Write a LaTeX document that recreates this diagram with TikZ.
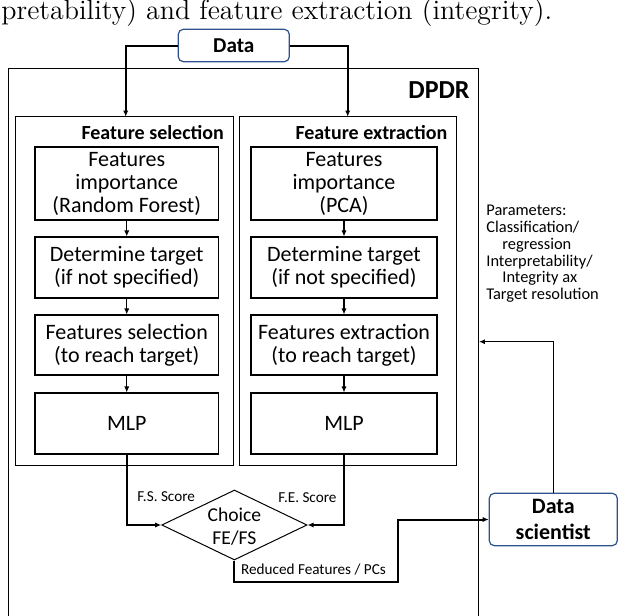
\documentclass[tikz,border=0pt]{standalone}
\usepackage{fontspec}
\newfontfamily\calib{Carlito}
\usetikzlibrary{shapes.geometric,arrows.meta}
\definecolor{boxblue}{HTML}{2F528F}
\begin{document}
\begin{tikzpicture}[x=0.5pt,y=-0.5pt,
  captxt/.style={anchor=base west, inner sep=0pt, font=\fontsize{14}{16}\selectfont},
  outerbox/.style={draw, line width=0.5pt, inner sep=0pt},
  groupbox/.style={draw, line width=0.5pt, inner sep=0pt},
  procbox/.style={draw, line width=0.55pt, inner sep=0pt, align=center, font=\calib\fontsize{11}{11.5}\selectfont},
  lcol/.style={procbox, minimum width=91.75pt},
  rcol/.style={procbox, minimum width=93pt},
  roundbox/.style={draw=boxblue, line width=0.6pt, rounded corners=2.5pt, fill=white, inner sep=0pt, align=center},
  grptitle/.style={anchor=east, inner sep=0pt, font=\calib\bfseries\fontsize{10}{12}\selectfont},
  choicebox/.style={draw, shape=diamond, line width=0.5pt, inner sep=0pt},
  choicetxt/.style={inner sep=0pt, align=center, font=\calib\fontsize{9.8}{11.5}\selectfont},
  smalltxt/.style={inner sep=0pt, font=\calib\fontsize{7.6}{9}\selectfont},
  paramtxt/.style={anchor=north west, inner sep=0pt, align=left, font=\calib\fontsize{8.2}{8.35}\selectfont},
  tip/.style={-{Latex[length=3pt,width=2.6pt]}},
  thickconn/.style={line width=1pt},
  thinconn/.style={line width=0.6pt}
]
\useasboundingbox (0,0) rectangle (618,616);
\clip (0,0) rectangle (618,616);

% caption fragment
\node[captxt] (cap) at (1,19.5) {pretability) and feature extraction (integrity).};

% outer box
\node[outerbox, minimum width=235.15pt, minimum height=285.85pt] (dpdr) at (243.85,354.15) {};
\node[inner sep=0pt, font=\calib\bfseries\fontsize{13}{15}\selectfont] (dpdrlbl) at (439,90.2) {DPDR};

% data
\node[roundbox, minimum width=55.5pt, minimum height=16.2pt, font=\calib\bfseries\fontsize{10.6}{12}\selectfont] (data) at (233.8,45.5) {Data};

% groups
\node[groupbox, minimum width=108.9pt, minimum height=174.15pt] (lgroup) at (124.4,290.85) {};
\node[groupbox, minimum width=108.6pt, minimum height=174.15pt] (rgroup) at (347.9,290.85) {};
\node[grptitle] (lgtitle) at (224.3,133) {Feature selection};
\node[grptitle] (rgtitle) at (447.7,133) {Feature extraction};

% left column
\node[lcol, minimum height=36.5pt] (l1) at (126.75,183.5) {Features\\importance\\(Random Forest)};
\node[lcol, minimum height=30.5pt] (l2) at (126.75,267.5) {Determine target\\(if not specified)};
\node[lcol, minimum height=30pt] (l3) at (126.75,345) {Features selection\\(to reach target)};
\node[lcol, minimum height=30.5pt] (l4) at (126.75,423.5) {MLP};

% right column
\node[rcol, minimum height=36.5pt] (r1) at (344,183.5) {Features\\importance\\(PCA)};
\node[rcol, minimum height=30.5pt] (r2) at (344,267.5) {Determine target\\(if not specified)};
\node[rcol, minimum height=30pt] (r3) at (344,345) {Features extraction\\(to reach target)};
\node[rcol, minimum height=30.5pt] (r4) at (344,423.5) {MLP};

% choice
\node[choicebox, minimum width=72.65pt, minimum height=35pt] (choice) at (234.4,525) {};
\node[choicetxt] (choicelbl) at (234.4,526.5) {Choice\\FE/FS};
\node[smalltxt] (fsscore) at (166.2,497) {F.S. Score};
\node[smalltxt] (fescore) at (307.5,498) {F.E. Score};
\node[smalltxt, anchor=west] (redlbl) at (240.7,570) {Reduced Features / PCs};

% data scientist
\node[roundbox, minimum width=64pt, minimum height=26.2pt, font=\calib\bfseries\fontsize{11}{13}\selectfont] (ds) at (553.3,519.5) {Data\\scientist};

% parameters
\node[paramtxt] (params) at (486,205) {Parameters:\\Classification/\\\hspace*{8pt}regression\\Interpretability/\\\hspace*{8pt}Integrity ax\\Target resolution};

% connectors
\coordinate (lin) at (125.7,116.7);
\coordinate (rin) at (347.7,116.7);
\draw[thickconn, tip] (data.west) -| (lin);
\draw[thickconn, tip] (data.east) -| (rin);

\foreach \a/\b in {l1/l2,l2/l3,l3/l4,r1/r2,r2/r3,r3/r4}
  \draw[thinconn, tip] (\a.south) -- (\b.north);

\draw[thickconn, tip] (l4.south) |- (choice.west);
\draw[thickconn, tip] (r4.south) |- (choice.east);

\coordinate (turn) at (398.3,581.7);
\draw[thickconn, tip] (choice.south) |- (turn) |- (ds.west);

\coordinate (pin) at (479,341.7);
\draw[thinconn, tip] (ds.north) |- (pin);
\end{tikzpicture}
\end{document}
